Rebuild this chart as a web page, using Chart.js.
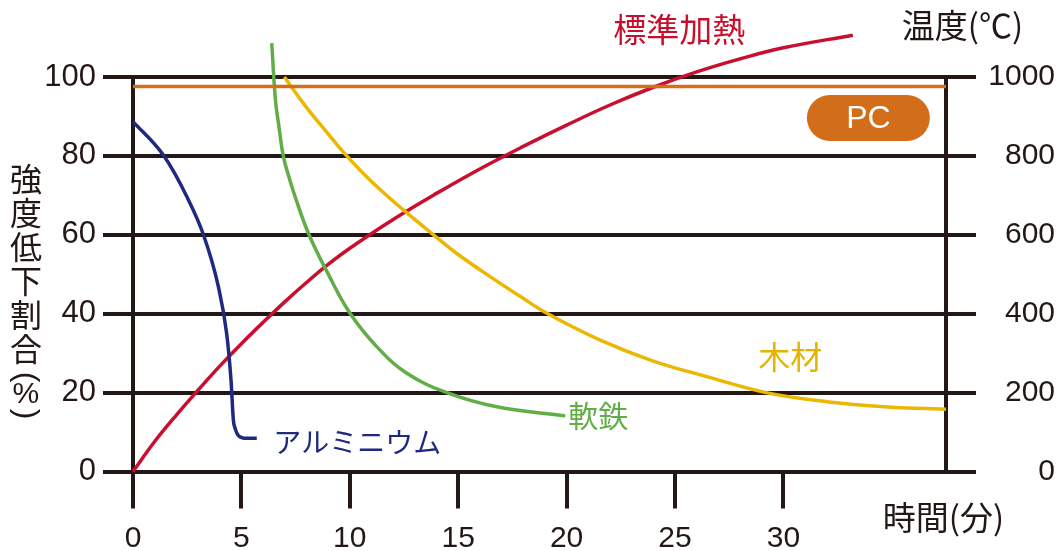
<!DOCTYPE html>
<html>
<head>
<meta charset="utf-8">
<script src="https://cdn.jsdelivr.net/npm/chart.js@4.4.1/dist/chart.umd.min.js"></script>
<style>
html, body { margin: 0; padding: 0; background: #fff; }
</style>
</head>
<body>
<canvas id="chart" width="1064" height="551"></canvas>
<script>
// time (min) and values
const xTicks = [0, 5, 10, 15, 20, 25, 30];

const heatTime = [0, 1, 2, 3, 4, 5, 6, 7, 8, 9, 10, 12, 14, 16, 18, 20, 22, 24, 26, 28, 30, 33.2];
const heatTemp = [0, 76, 143, 206, 267, 324, 378, 430, 479, 525, 566, 639, 705, 767, 824, 878, 929, 974, 1013, 1046, 1074, 1106];

const aluTime = [0, 1.4, 2.48, 3.25, 3.94, 4.32, 4.52, 4.63, 4.72, 4.85, 5.25, 5.71];
const aluRate = [88.7, 80.2, 69.7, 60, 46.8, 35, 23.2, 13, 10.8, 9.2, 8.4, 8.4];

const ironTime = [6.4, 6.57, 6.74, 6.93, 7.18, 7.45, 8.12, 9.0, 10.01, 11.25, 12.63, 14.48, 16.78, 19.94];
const ironRate = [108.6, 94.2, 87.1, 80, 74.9, 70.1, 60, 50.1, 40.1, 31.6, 24.9, 20, 16.4, 14.1];

const woodTime = [6.98, 8, 9, 9.86, 11, 12.47, 13.86, 15, 16.47, 17.8, 19.09, 21.55, 24, 26.5, 29.2, 32, 35, 37.5];
const woodRate = [100, 92.3, 85.6, 80, 73.5, 66.3, 60, 55, 49.4, 44.6, 40.1, 33.3, 28, 24, 20, 17.7, 16.3, 15.8];

const pcTime = [0, 37.5];
const pcRate = [97.6, 97.6];

const INK = '#231815';
const RED = '#c80f2e';
const NAVY = '#1f2a7f';
const GREEN = '#62ad47';
const YELLOW = '#ebb700';
const ORANGE = '#d26d1a';

const pts = (xs, ys) => xs.map((v, i) => ({ x: v, y: ys[i] }));

// text annotations, placed in data units
const notes = [
  { text: '標準加熱', x: 25.2, y: 112.4, color: RED, font: '33px "Noto Sans CJK JP"' },
  { text: '温度(℃)', x: 38.26, y: 113.2, color: INK, font: '33px "Noto Sans CJK JP"' },
  { text: '時間(分)', x: 37.38, y: -11.3, color: INK, font: '33px "Noto Sans CJK JP"' },
  { text: 'アルミニウム', x: 10.34, y: 7.7, color: NAVY, font: '28px "Noto Sans CJK JP"' },
  { text: '軟鉄', x: 21.46, y: 14.3, color: GREEN, font: '30px "Noto Sans CJK JP"' },
  { text: '木材', x: 30.32, y: 29.3, color: '#e5b300', font: '32px "Noto Sans CJK JP"' },
  { text: 'PC', x: 33.92, y: 89.6, color: '#fff', font: '32px "Liberation Sans"', pill: ORANGE, w: 123, h: 46 }
];

const labelPlugin = {
  id: 'labels',
  afterDraw(chart) {
    const { ctx, scales: { x, y } } = chart;
    ctx.save();
    ctx.textAlign = 'center';
    ctx.textBaseline = 'middle';
    notes.forEach(n => {
      const px = x.getPixelForValue(n.x);
      const py = y.getPixelForValue(n.y);
      if (n.pill) {
        ctx.fillStyle = n.pill;
        ctx.beginPath();
        ctx.roundRect(px - n.w / 2, py - n.h / 2, n.w, n.h, n.h / 2);
        ctx.fill();
      }
      ctx.fillStyle = n.color;
      ctx.font = n.font;
      ctx.fillText(n.text, px, py + 1);
    });

    // vertical axis title, characters stacked upright
    const tx = x.getPixelForValue(-4.94);
    let ty = y.getPixelForValue(74.1);
    ctx.fillStyle = INK;
    ctx.font = '32px "Noto Sans CJK JP"';
    for (const ch of '強度低下割合') {
      ctx.fillText(ch, tx, ty);
      ty += 34;
    }
    ctx.font = '32px "Liberation Sans"';
    const paren = (ch, cy) => {
      ctx.save();
      ctx.translate(tx, cy);
      ctx.rotate(Math.PI / 2);
      ctx.fillText(ch, 0, 0);
      ctx.restore();
    };
    paren('(', ty - 6);
    ctx.font = '30px "Liberation Sans"';
    ctx.fillText('%', tx, ty + 12);
    ctx.font = '32px "Liberation Sans"';
    paren(')', ty + 31);
    ctx.restore();
  }
};

Chart.defaults.font.family = '"Liberation Sans", Arial, sans-serif';
Chart.defaults.font.size = 30;
Chart.defaults.color = INK;

const line = (data, color, axis, mode) => ({
  data: data,
  borderColor: color,
  backgroundColor: 'transparent',
  borderWidth: 3.5,
  pointRadius: 0,
  cubicInterpolationMode: mode || 'default',
  tension: 0.4,
  clip: false,
  yAxisID: axis || 'y'
});

new Chart(document.getElementById('chart'), {
  type: 'line',
  data: {
    datasets: [
      line(pts(pcTime, pcRate), ORANGE),
      line(pts(woodTime, woodRate), YELLOW),
      line(pts(ironTime, ironRate), GREEN),
      line(pts(aluTime, aluRate), NAVY, 'y', 'monotone'),
      line(pts(heatTime, heatTemp), RED, 'y2')
    ]
  },
  options: {
    responsive: false,
    animation: false,
    events: [],
    layout: { padding: { top: 77, right: 9, left: 0, bottom: 0 } },
    plugins: { legend: { display: false }, tooltip: { enabled: false } },
    scales: {
      x: {
        type: 'linear',
        min: 0,
        max: 37.5,
        afterBuildTicks: s => { s.ticks = xTicks.map(v => ({ value: v })); },
        afterFit: s => { s.height = 79.5; },
        grid: { drawOnChartArea: false, drawTicks: true, tickLength: 37, lineWidth: 4, color: INK },
        border: { display: true, width: 4, color: INK },
        ticks: { padding: 12, maxRotation: 0, autoSkip: false, color: INK, font: { size: 30 }, callback: v => String(v) }
      },
      y: {
        position: 'left',
        min: 0,
        max: 100,
        afterFit: s => { s.width = 133; },
        grid: { lineWidth: 4, color: INK, tickLength: 30 },
        border: { display: true, width: 4, color: INK },
        ticks: { stepSize: 20, padding: 7, color: INK, font: { size: 31 }, callback: v => String(v) }
      },
      y2: {
        position: 'right',
        min: 0,
        max: 1000,
        afterFit: s => { s.width = 109; },
        grid: { drawOnChartArea: false, lineWidth: 4, color: INK, tickLength: 30 },
        border: { display: true, width: 4, color: INK },
        ticks: { stepSize: 200, padding: 11, crossAlign: 'far', color: INK, font: { size: 30 }, callback: v => String(v) }
      }
    }
  },
  plugins: [labelPlugin]
});
</script>
</body>
</html>
